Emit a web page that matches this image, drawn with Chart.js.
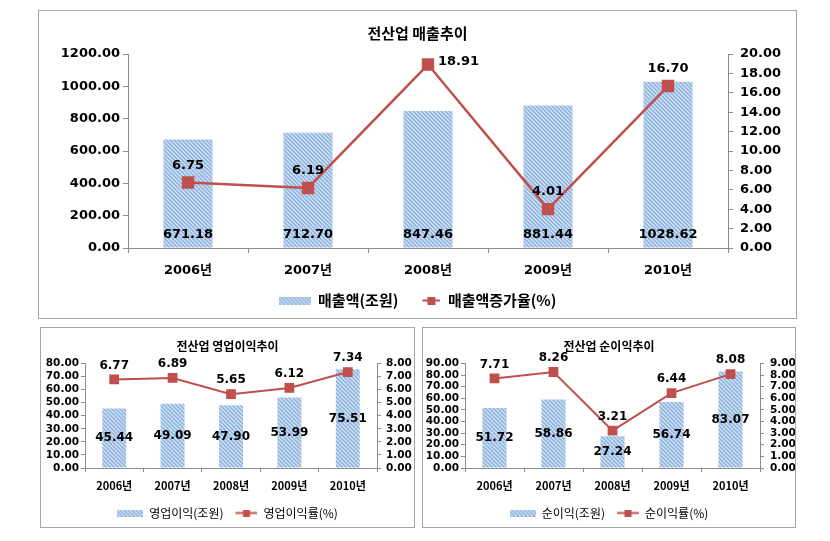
<!DOCTYPE html>
<html>
<head>
<meta charset="utf-8">
<script src="https://cdn.jsdelivr.net/npm/chart.js@4"></script>
<style>
  body { margin: 0; background: #fff; width: 830px; height: 541px; position: relative; overflow: hidden; }
  .box { position: absolute; border: 1px solid #a6a6a6; box-sizing: border-box; }
  .box canvas { position: absolute; left: 0; top: 0; }
</style>
</head>
<body>
<div class="box" id="box-sales" style="left:38px; top:10px; width:759px; height:309px;">
  <canvas id="sales-chart" width="757" height="307"></canvas>
</div>
<div class="box" id="box-op" style="left:40px; top:327px; width:375px; height:201px;">
  <canvas id="op-chart" width="373" height="199"></canvas>
</div>
<div class="box" id="box-net" style="left:422px; top:327px; width:374px; height:201px;">
  <canvas id="net-chart" width="372" height="199"></canvas>
</div>
<script>
// categories
const years = ['2006년', '2007년', '2008년', '2009년', '2010년'];

// 매출 (top chart)
const salesAmount = [671.18, 712.70, 847.46, 881.44, 1028.62];
const salesGrowth = [6.75, 6.19, 18.91, 4.01, 16.70];
const salesLeftTicks = [0, 200, 400, 600, 800, 1000, 1200];
const salesRightTicks = [0, 2, 4, 6, 8, 10, 12, 14, 16, 18, 20];

// 영업이익 (bottom left)
const opProfit = [45.44, 49.09, 47.90, 53.99, 75.51];
const opMargin = [6.77, 6.89, 5.65, 6.12, 7.34];
const opLeftTicks = [0, 10, 20, 30, 40, 50, 60, 70, 80];
const opRightTicks = [0, 1, 2, 3, 4, 5, 6, 7, 8];

// 순이익 (bottom right)
const netProfit = [51.72, 58.86, 27.24, 56.74, 83.07];
const netMargin = [7.71, 8.26, 3.21, 6.44, 8.08];
const netLeftTicks = [0, 10, 20, 30, 40, 50, 60, 70, 80, 90];
const netRightTicks = [0, 1, 2, 3, 4, 5, 6, 7, 8, 9];

const RED = '#c0504d';
const AXIS = '#8c8c8c';
const NUM_FONT = '"DejaVu Sans", "Noto Sans CJK KR", sans-serif';
const KR_FONT = '"Noto Sans CJK KR", "DejaVu Sans", sans-serif';

// hatched light blue fill like the excel texture
const makeHatch = () => {
    const c = document.createElement('canvas');
    c.width = 4; c.height = 4;
    const g = c.getContext('2d');
    g.fillStyle = '#8fb4df';
    g.fillRect(0, 0, 4, 4);
    g.strokeStyle = '#dce9f7';
    g.lineWidth = 1.2;
    g.beginPath();
    g.moveTo(-1, -1); g.lineTo(5, 5);
    g.moveTo(3, -1); g.lineTo(5, 1);
    g.moveTo(-1, 3); g.lineTo(1, 5);
    g.stroke();
    return g.createPattern(c, 'repeat');
};
const hatch = makeHatch();

// legend swatches (drawn right-aligned in the slot so text follows closely)
const barSwatch = (w, h) => {
    const c = document.createElement('canvas');
    c.width = w; c.height = h;
    const g = c.getContext('2d');
    g.fillStyle = hatch;
    g.fillRect(0, 0, w, h);
    return c;
};
const lineSwatch = (w, lw, m) => {
    const c = document.createElement('canvas');
    c.width = w; c.height = m;
    const g = c.getContext('2d');
    g.strokeStyle = RED;
    g.lineWidth = 2;
    g.beginPath();
    g.moveTo(w - lw, m / 2); g.lineTo(w, m / 2);
    g.stroke();
    g.fillStyle = RED;
    g.fillRect(w - lw / 2 - m / 2, 0, m, m);
    return c;
};

// value labels drawn on bars and points
const valueLabels = {
    id: 'valueLabels',
    afterDatasetsDraw(chart, args, opts) {
        const ctx = chart.ctx;
        ctx.save();
        ctx.font = opts.font;
        ctx.fillStyle = '#000';
        ctx.textBaseline = 'middle';
        chart.data.datasets.forEach((ds, i) => {
            const meta = chart.getDatasetMeta(i);
            meta.data.forEach((el, j) => {
                const text = ds.data[j].toFixed(2);
                if (ds.type === 'bar') {
                    ctx.textAlign = 'center';
                    const y = opts.barAtBase ? el.base - opts.baseOffset : (el.y + el.base) / 2;
                    ctx.fillText(text, el.x, y);
                } else if ((opts.rightOf || []).includes(j)) {
                    ctx.textAlign = 'left';
                    ctx.fillText(text, el.x + 10, el.y - 3);
                } else {
                    ctx.textAlign = 'center';
                    ctx.fillText(text, el.x, el.y - opts.lineOffset);
                }
            });
        });
        ctx.restore();
    }
};

const buildChart = (id, cfg) => {
    const ctx = document.getElementById(id).getContext('2d');
    const fixWidth = w => scale => { scale.width = w; };
    const yTicks = (pad) => ({
        color: '#000', padding: pad, autoSkip: false,
        font: { family: NUM_FONT, size: cfg.yFont, weight: 'bold' },
        callback: v => v.toFixed(2)
    });
    return new Chart(ctx, {
        data: {
            labels: years,
            datasets: [{
                type: 'bar',
                label: cfg.barLabel,
                data: cfg.bars,
                backgroundColor: hatch,
                borderWidth: 0,
                yAxisID: 'y',
                order: 1,
                categoryPercentage: 1,
                barPercentage: 0.41
            }, {
                type: 'line',
                label: cfg.lineLabel,
                data: cfg.line,
                borderColor: RED,
                backgroundColor: RED,
                borderWidth: cfg.lineWidth,
                pointStyle: 'rect',
                pointRadius: cfg.pointRadius,
                pointBackgroundColor: RED,
                pointBorderColor: RED,
                tension: 0,
                yAxisID: 'y1',
                order: 0
            }]
        },
        options: {
            responsive: false,
            animation: false,
            devicePixelRatio: 1,
            layout: { padding: { left: 0, right: 0, top: 0, bottom: cfg.padBottom } },
            scales: {
                x: {
                    offset: true,
                    border: { display: true, color: AXIS },
                    grid: { display: true, drawOnChartArea: false, tickLength: cfg.tickLen, color: AXIS, offset: true },
                    ticks: { color: '#000', padding: cfg.xPad, font: { family: cfg.xFamily, size: cfg.xFont, weight: 'bold' } },
                    afterFit: scale => { scale.height = cfg.xHeight; }
                },
                y: {
                    position: 'left',
                    min: cfg.leftTicks[0],
                    max: cfg.leftTicks[cfg.leftTicks.length - 1],
                    afterBuildTicks: scale => { scale.ticks = cfg.leftTicks.map(v => ({ value: v })); },
                    border: { display: true, color: AXIS },
                    grid: { display: true, drawOnChartArea: false, tickLength: cfg.tickLen, color: AXIS },
                    ticks: yTicks(cfg.leftPad),
                    afterFit: fixWidth(cfg.leftWidth)
                },
                y1: {
                    position: 'right',
                    min: cfg.rightTicks[0],
                    max: cfg.rightTicks[cfg.rightTicks.length - 1],
                    afterBuildTicks: scale => { scale.ticks = cfg.rightTicks.map(v => ({ value: v })); },
                    border: { display: true, color: AXIS },
                    grid: { display: true, drawOnChartArea: false, tickLength: cfg.tickLen, color: AXIS },
                    ticks: yTicks(cfg.rightPad),
                    afterFit: fixWidth(cfg.rightWidth)
                }
            },
            plugins: {
                title: {
                    display: true,
                    text: cfg.title,
                    color: '#000',
                    font: { family: KR_FONT, size: cfg.titleFont, weight: 'bold' },
                    padding: { top: cfg.titleTop, bottom: cfg.titleBottom }
                },
                legend: {
                    display: true,
                    position: 'bottom',
                    labels: {
                        color: '#000',
                        font: { family: KR_FONT, size: cfg.legendFont, weight: cfg.legendWeight },
                        usePointStyle: true,
                        pointStyleWidth: cfg.swatchW,
                        padding: cfg.legendPad,
                        sort: (a, b) => a.datasetIndex - b.datasetIndex,
                        generateLabels: chart => Chart.defaults.plugins.legend.labels.generateLabels(chart).map(item => {
                            item.pointStyle = item.datasetIndex === 0
                                ? barSwatch(cfg.swatchW, cfg.swatchH)
                                : lineSwatch(cfg.swatchW, cfg.lineSwatchW, cfg.swatchM);
                            return item;
                        })
                    }
                },
                tooltip: { enabled: false },
                valueLabels: {
                    font: 'bold ' + cfg.labelFont + 'px ' + NUM_FONT,
                    barAtBase: cfg.barAtBase,
                    baseOffset: 13,
                    lineOffset: cfg.lineOffset,
                    rightOf: cfg.rightOf
                }
            }
        },
        plugins: [valueLabels]
    });
};

buildChart('sales-chart', {
    title: '전산업 매출추이',
    barLabel: '매출액(조원)', lineLabel: '매출액증가율(%)',
    bars: salesAmount, line: salesGrowth,
    leftTicks: salesLeftTicks, rightTicks: salesRightTicks,
    lineWidth: 2.5, pointRadius: 7,
    tickLen: 5, xPad: 10, xHeight: 35, xFont: 13, xFamily: NUM_FONT, yFont: 13,
    leftPad: 3, rightPad: 7, leftWidth: 89, rightWidth: 68,
    titleFont: 15, titleTop: 13, titleBottom: 12,
    legendFont: 15, legendWeight: 'bold', legendPad: 10, padBottom: 0,
    swatchW: 32, swatchH: 8, lineSwatchW: 18, swatchM: 8,
    labelFont: 13, barAtBase: true, lineOffset: 17, rightOf: [2]
});

buildChart('op-chart', {
    title: '전산업 영업이익추이',
    barLabel: '영업이익(조원)', lineLabel: '영업이익률(%)',
    bars: opProfit, line: opMargin,
    leftTicks: opLeftTicks, rightTicks: opRightTicks,
    lineWidth: 2, pointRadius: 5.5,
    tickLen: 4, xPad: 7, xHeight: 31, xFont: 11, xFamily: KR_FONT, yFont: 10.5,
    leftPad: 2, rightPad: 5, leftWidth: 44, rightWidth: 37,
    titleFont: 12, titleTop: 11, titleBottom: 10,
    legendFont: 12, legendWeight: 'normal', legendPad: 8, padBottom: -2,
    swatchW: 26, swatchH: 7, lineSwatchW: 22, swatchM: 7,
    labelFont: 12, barAtBase: false, lineOffset: 14, rightOf: []
});

buildChart('net-chart', {
    title: '전산업 순이익추이',
    barLabel: '순이익(조원)', lineLabel: '순이익률(%)',
    bars: netProfit, line: netMargin,
    leftTicks: netLeftTicks, rightTicks: netRightTicks,
    lineWidth: 2, pointRadius: 5.5,
    tickLen: 4, xPad: 7, xHeight: 31, xFont: 11, xFamily: KR_FONT, yFont: 10.5,
    leftPad: 2, rightPad: 6, leftWidth: 42, rightWidth: 35,
    titleFont: 12, titleTop: 11, titleBottom: 10,
    legendFont: 12, legendWeight: 'normal', legendPad: 8, padBottom: -2,
    swatchW: 26, swatchH: 7, lineSwatchW: 22, swatchM: 7,
    labelFont: 12, barAtBase: false, lineOffset: 14, rightOf: []
});
</script>
</body>
</html>
